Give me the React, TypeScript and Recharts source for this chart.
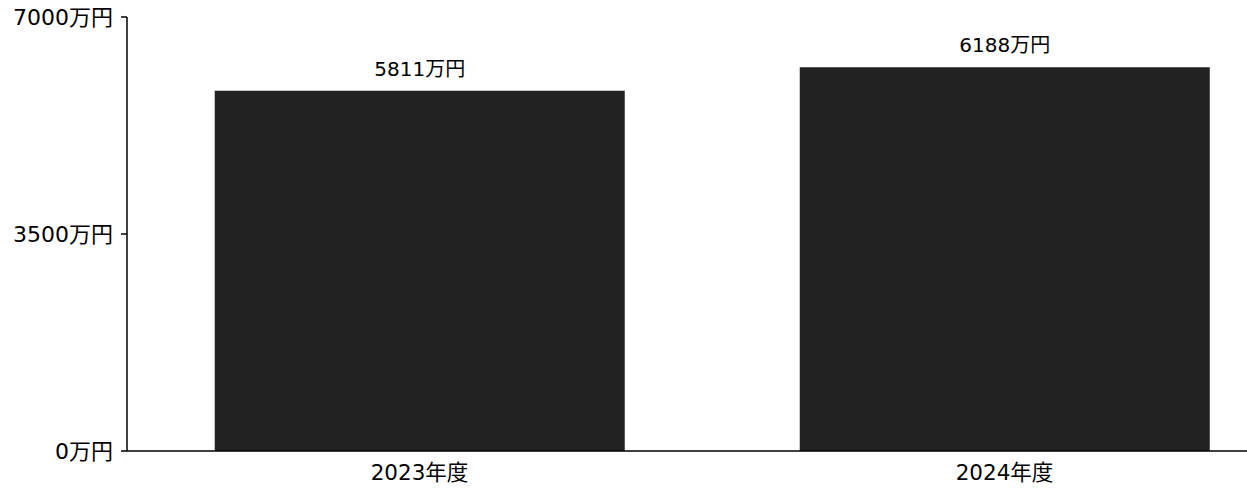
import { BarChart, Bar, XAxis, YAxis, LabelList } from 'recharts'

const years = ['2023年度', '2024年度']
const amounts = [5811, 6188]
const yTicks = [0, 3500, 7000]

const data = years.map((year, i) => ({ year, amount: amounts[i] }))

const font = '"DejaVu Sans", "Noto Sans CJK JP", sans-serif'

export default function App() {
  return (
    <div
      style={{
        position: 'fixed',
        left: 0,
        top: 0,
        width: 1247,
        height: 495,
        overflow: 'hidden',
        background: '#fff',
        fontFamily: font,
      }}
    >
      <BarChart
        width={1300}
        height={495}
        data={data}
        margin={{ top: 17, right: 3, left: 0, bottom: 14 }}
        barCategoryGap="15%"
      >
        <XAxis
          dataKey="year"
          tickLine={false}
          tickMargin={8}
          axisLine={{ stroke: '#000', strokeWidth: 1.5 }}
          tick={{ fontSize: 21.5, fill: '#000', fontFamily: font }}
          height={30}
        />
        <YAxis
          width={127}
          domain={[0, 7000]}
          ticks={yTicks}
          tickFormatter={(v: number) => `${v}万円`}
          tickSize={6}
          tickMargin={8}
          axisLine={{ stroke: '#000', strokeWidth: 1.5 }}
          tickLine={{ stroke: '#000', strokeWidth: 1.5 }}
          tick={{ fontSize: 22, fill: '#000', fontFamily: font }}
        />
        <Bar dataKey="amount" fill="#222222" isAnimationActive={false}>
          <LabelList
            dataKey="amount"
            position="top"
            offset={15}
            formatter={(v: unknown) => `${v}万円`}
            style={{ fontSize: 20, fill: '#000', fontFamily: font }}
          />
        </Bar>
      </BarChart>
    </div>
  )
}
